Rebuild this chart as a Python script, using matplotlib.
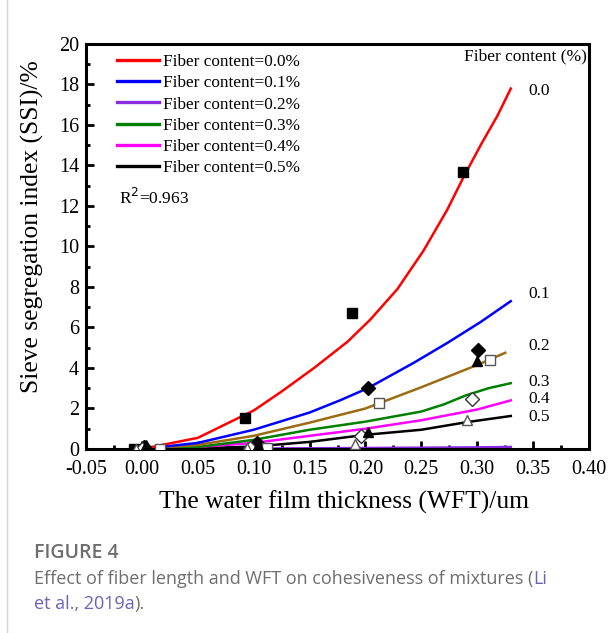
import matplotlib
matplotlib.use("Agg")
import matplotlib.pyplot as plt
from matplotlib.lines import Line2D
from matplotlib.ticker import MultipleLocator

plt.rcParams["font.family"] = "Liberation Serif"

# fitted curves (WFT, SSI)
x_00 = [0, 0.05, 0.10, 0.124, 0.154, 0.184, 0.2045, 0.2286, 0.252, 0.273, 0.2875, 0.303, 0.318, 0.33]
y_00 = [0, 0.55, 1.9, 2.8, 4.0, 5.3, 6.4, 7.9, 9.8, 11.8, 13.4, 15.0, 16.45, 17.8]
x_01 = [0, 0.05, 0.10, 0.15, 0.178, 0.202, 0.243, 0.273, 0.303, 0.33]
y_01 = [0, 0.3, 0.95, 1.8, 2.42, 3.0, 4.25, 5.23, 6.27, 7.3]
x_02 = [0, 0.05, 0.10, 0.15, 0.20, 0.25, 0.30, 0.325]
y_02 = [0, 0.2, 0.65, 1.3, 2.0, 3.05, 4.15, 4.75]
x_03 = [0, 0.05, 0.10, 0.15, 0.20, 0.25, 0.27, 0.29, 0.31, 0.33]
y_03 = [0, 0.1, 0.45, 0.95, 1.35, 1.85, 2.2, 2.65, 3.0, 3.25]
x_04 = [0, 0.05, 0.10, 0.15, 0.20, 0.25, 0.30, 0.33]
y_04 = [0, 0.1, 0.3, 0.65, 1.0, 1.42, 1.95, 2.4]
x_05 = [0, 0.05, 0.10, 0.15, 0.20, 0.25, 0.29, 0.33]
y_05 = [0, 0.03, 0.12, 0.35, 0.7, 0.95, 1.32, 1.63]
x_pu = [0, 0.10, 0.20, 0.30, 0.33]
y_pu = [0, 0.02, 0.05, 0.08, 0.1]

# measured points
sq_f_x = [-0.007, 0.092, 0.188, 0.287]
sq_f_y = [0.0, 1.53, 6.7, 13.7]
di_f_x = [0.002, 0.103, 0.202, 0.301]
di_f_y = [0.1, 0.3, 3.0, 4.9]
sq_o_x = [0.016, 0.112, 0.212, 0.311]
sq_o_y = [0.0, 0.05, 2.27, 4.4]
di_o_x = [0.0, 0.097, 0.196, 0.295]
di_o_y = [0.0, 0.05, 0.64, 2.47]
tr_f_x = [0.004, 0.104, 0.2025, 0.30]
tr_f_y = [0.2, 0.2, 0.84, 4.35]
tr_o_x = [-0.005, 0.094, 0.191, 0.291]
tr_o_y = [0.0, 0.05, 0.25, 1.43]

legend_labels = ["Fiber content=0.0%", "Fiber content=0.1%", "Fiber content=0.2%",
                 "Fiber content=0.3%", "Fiber content=0.4%", "Fiber content=0.5%"]
legend_colors = ["#ff0000", "#0000ff", "#8a2be2", "#008000", "#ff00ff", "#000000"]
end_labels = ["0.0", "0.1", "0.2", "0.3", "0.4", "0.5"]
end_label_y = [17.7, 7.65, 5.1, 3.3, 2.45, 1.6]

fig = plt.figure(figsize=(6.13, 6.33), dpi=100)
ax = fig.add_axes([0.1403, 0.2907, 0.8206, 0.6398])

lw = 1.8
ax.plot(x_pu, y_pu, color="#8a2be2", lw=lw)
ax.plot(x_05, y_05, color="#000000", lw=lw)
ax.plot(x_04, y_04, color="#ff00ff", lw=lw)
ax.plot(x_03, y_03, color="#008000", lw=lw)
ax.plot(x_02, y_02, color="#9c6b12", lw=lw)
ax.plot(x_01, y_01, color="#0000ff", lw=lw)
ax.plot(x_00, y_00, color="#ff0000", lw=lw)

mk = dict(ms=7.5, ls="none", zorder=5)
ax.plot(sq_f_x, sq_f_y, marker="s", color="black", **mk)
ax.plot(di_f_x, di_f_y, marker="D", color="black", **mk)
ax.plot(sq_o_x, sq_o_y, marker="s", mfc="white", mec="#555555", mew=1, **mk)
ax.plot(di_o_x, di_o_y, marker="D", mfc="white", mec="#333333", mew=1, **mk)
ax.plot(tr_f_x, tr_f_y, marker="^", color="black", **mk)
ax.plot(tr_o_x, tr_o_y, marker="^", mfc="white", mec="#555555", mew=1, **mk)

ax.set_xlim(-0.05, 0.40)
ax.set_ylim(0, 20)
ax.xaxis.set_major_locator(MultipleLocator(0.05))
ax.xaxis.set_minor_locator(MultipleLocator(0.025))
ax.yaxis.set_major_locator(MultipleLocator(2))
ax.yaxis.set_minor_locator(MultipleLocator(1))
ax.set_xticklabels([f"{v:.2f}" for v in ax.get_xticks()])
ax.tick_params(which="both", direction="in", width=2, labelsize=14.5)
ax.tick_params(which="major", length=6, pad=5)
ax.tick_params(axis="x", which="major", pad=8)
ax.tick_params(which="minor", length=3)
for s in ax.spines.values():
    s.set_linewidth(2.2)

ax.set_xlabel("The water film thickness (WFT)/um", fontsize=18.4)
ax.set_ylabel("Sieve segregation index (SSI)/%", fontsize=18.4)
ax.xaxis.set_label_coords(0.513, -0.103)
ax.yaxis.set_label_coords(-0.083, 0.549)

handles = [Line2D([], [], color=c, lw=2.4) for c in legend_colors]
ax.legend(handles, legend_labels, loc="upper left", bbox_to_anchor=(0.038, 1.005),
          frameon=False, fontsize=12.4, handlelength=2.4, handletextpad=0.25,
          labelspacing=0.3, borderaxespad=0.3)
ax.text(-0.0205, 12.4, "R$^2$=0.963", fontsize=12.5, va="center")

ax.text(0.343, 19.4, "Fiber content (%)", fontsize=12.5, ha="center", va="center")
for lab, yy in zip(end_labels, end_label_y):
    ax.text(0.346, yy, lab, fontsize=12.5, va="center")

# caption
fig.add_artist(Line2D([0.011, 0.011], [0, 1], color="#d6d6d6", lw=1))
fig.text(0.055, 0.118, "FIGURE 4", family="Open Sans", fontsize=14,
         color="#6e6e6e", weight="semibold")
cap = dict(family="Open Sans", fontsize=13)
t1 = fig.text(0.055, 0.078, "Effect of fiber length and WFT on cohesiveness of mixtures (",
              color="#6e6e6e", **cap)
fig.add_artist(plt.Annotation("Li", xy=(1, 0), xycoords=t1, va="bottom",
                              color="#6b63b8", **cap))
t2 = fig.text(0.055, 0.038, "et al., 2019a", color="#6b63b8", **cap)
fig.add_artist(plt.Annotation(").", xy=(1, 0), xycoords=t2, va="bottom",
                              color="#6e6e6e", **cap))

fig.savefig("out.png", dpi=100)
